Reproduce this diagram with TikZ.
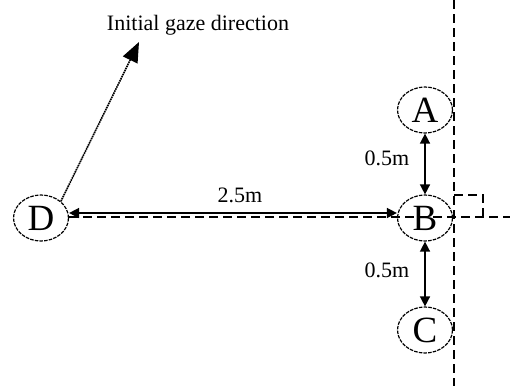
\documentclass[tikz,border=0pt]{standalone}
\usepackage{fontspec}
\setmainfont{Liberation Serif}
\usetikzlibrary{arrows.meta,shapes.geometric}
\begin{document}
\begin{tikzpicture}[x=1pt,y=-1pt,
  posnode/.style={ellipse,draw,line width=1.2pt,dash pattern=on 3.5pt off 1.2pt,
    minimum width=55pt,minimum height=46pt,inner sep=0pt,
    font=\fontsize{37}{37}\selectfont},
  lbl/.style={font=\fontsize{22}{22}\selectfont,inner sep=0pt,anchor=base},
  guide/.style={line width=1.4pt,dash pattern=on 9pt off 5pt},
  dist/.style={line width=1.5pt,{Triangle[length=10pt,width=10pt]}-{Triangle[length=10pt,width=10pt]}},
  gazeline/.style={line width=1.6pt,dash pattern=on 1.6pt off 0.7pt,-{Triangle[length=20pt,width=16pt]}}]
\useasboundingbox (0,0) rectangle (510,386);
\fill[white] (0,0) rectangle (510,386);
% nodes
\node[posnode] (A) at (425,110) {A};
\node[posnode] (B) at (425,218) {B};
\node[posnode] (C) at (425,330) {C};
\node[posnode] (D) at (41,218) {D};
% guide lines
\coordinate (vtop) at (454,0);
\coordinate (vbot) at (454,386);
\coordinate (hend) at (510,217);
\coordinate (sq1) at (454,195);
\coordinate (sq2) at (483,195);
\coordinate (sq3) at (483,217);
\draw[guide] (vtop) -- (vbot);
\draw[guide] (D.east |- 0,217) -- (hend);
\draw[guide] (sq1) -- (sq2) -- (sq3);
% distance arrows
\draw[dist] ([yshift=5pt]D.east) -- ([yshift=5pt]B.west);
\draw[dist] (A) -- (B);
\draw[dist] (B) -- (C);
% gaze
\coordinate (gaze) at (139,42);
\draw[gazeline] (D.north east) -- (gaze);
% labels
\node[lbl] (gazetext) at (198,30) {Initial gaze direction};
\node[lbl] (dDB) at (240,202) {2.5m};
\node[lbl] (dAB) at (387,165) {0.5m};
\node[lbl] (dBC) at (387,277) {0.5m};
\end{tikzpicture}
\end{document}
